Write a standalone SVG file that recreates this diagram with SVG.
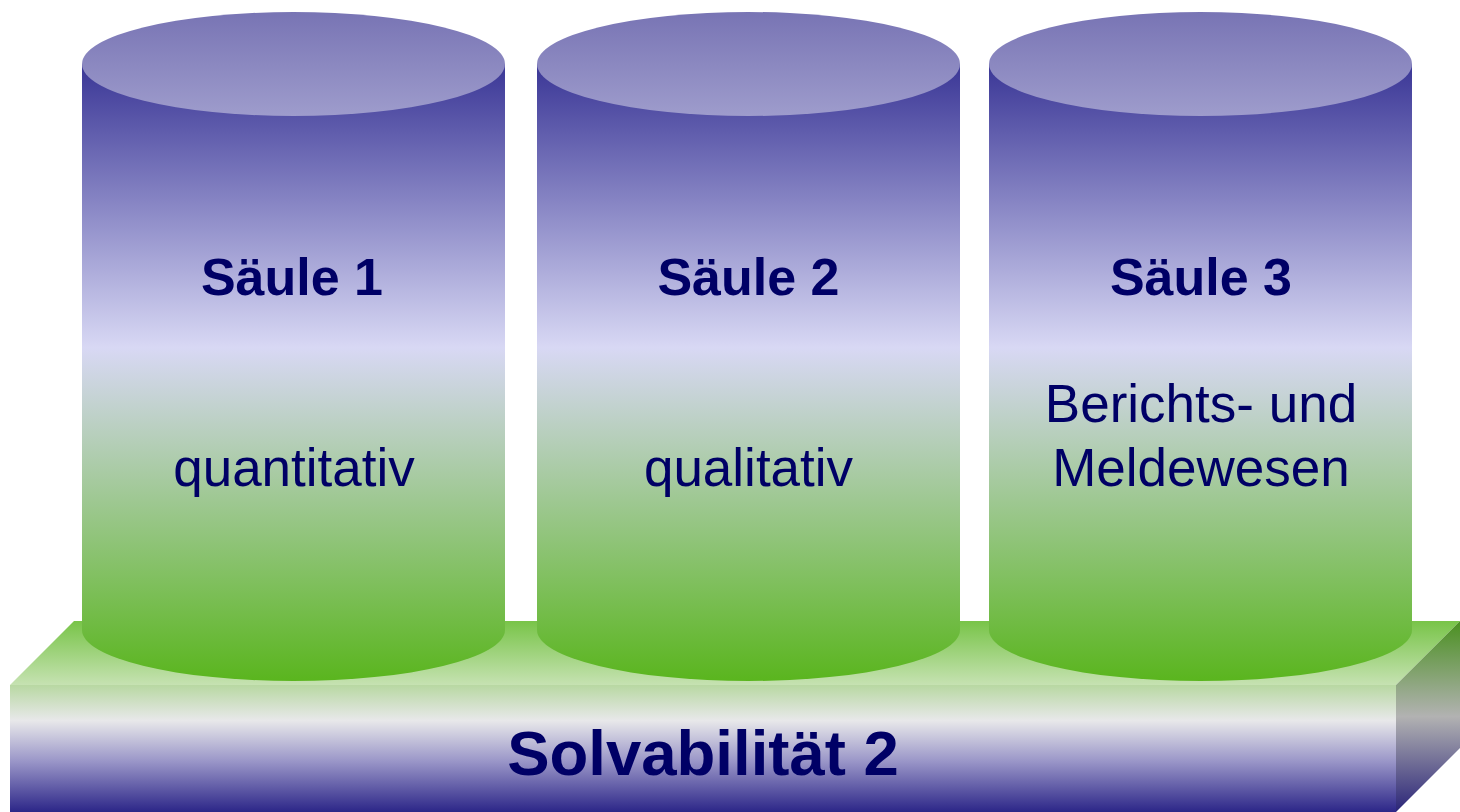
<svg xmlns="http://www.w3.org/2000/svg" width="1460" height="812" viewBox="0 0 1460 812">
<defs>
<linearGradient id="topFace" gradientUnits="userSpaceOnUse" x1="0" y1="621" x2="0" y2="685">
<stop offset="0" stop-color="#78c448"/><stop offset="1" stop-color="#c6e2b2"/>
</linearGradient>
<linearGradient id="frontFace" gradientUnits="userSpaceOnUse" x1="0" y1="685" x2="0" y2="812">
<stop offset="0" stop-color="#b8d8a2"/><stop offset="0.28" stop-color="#e8e8ea"/><stop offset="0.6" stop-color="#9a96c8"/><stop offset="1" stop-color="#2c2688"/>
</linearGradient>
<linearGradient id="sideFace" gradientUnits="userSpaceOnUse" x1="0" y1="621" x2="0" y2="812">
<stop offset="0" stop-color="#4a9020"/><stop offset="0.5" stop-color="#b2b2b2"/><stop offset="1" stop-color="#2a2478"/>
</linearGradient>
<linearGradient id="body" gradientUnits="userSpaceOnUse" x1="0" y1="64" x2="0" y2="681">
<stop offset="0" stop-color="#3a3696"/><stop offset="0.46" stop-color="#d8d8f4"/><stop offset="1" stop-color="#5ab51e"/>
</linearGradient>
<linearGradient id="cap" gradientUnits="userSpaceOnUse" x1="0" y1="12" x2="0" y2="116">
<stop offset="0" stop-color="#7874b4"/><stop offset="1" stop-color="#9e9ccc"/>
</linearGradient>
<style>
.t{font-family:"Liberation Sans",Arial,sans-serif;fill:#000066;text-anchor:middle;font-size:53px}
.b{font-weight:bold;font-size:52px}
.big{font-size:63.5px}
</style>
</defs>
<g id="base">
<polygon points="10,685 74,621 1460,621 1396,685" fill="url(#topFace)"/>
<rect x="10" y="685" width="1386" height="127" fill="url(#frontFace)"/>
<polygon points="1396,685 1460,621 1460,748 1396,812" fill="url(#sideFace)"/>
<text class="t b big" x="703" y="775">Solvabilität 2</text>
</g>
<g id="saeule1">
<path d="M82,64 L82,630 A211.5,51 0 0 0 505,630 L505,64 Z" fill="url(#body)"/>
<ellipse cx="293.5" cy="64" rx="211.5" ry="52" fill="url(#cap)"/>
<text class="t b" x="292" y="295">Säule 1</text>
<text class="t" x="294" y="486">quantitativ</text>
</g>
<g id="saeule2">
<path d="M537,64 L537,630 A211.5,51 0 0 0 960,630 L960,64 Z" fill="url(#body)"/>
<ellipse cx="748.5" cy="64" rx="211.5" ry="52" fill="url(#cap)"/>
<text class="t b" x="748.5" y="295">Säule 2</text>
<text class="t" x="748.5" y="486">qualitativ</text>
</g>
<g id="saeule3">
<path d="M989,64 L989,630 A211.5,51 0 0 0 1412,630 L1412,64 Z" fill="url(#body)"/>
<ellipse cx="1200.5" cy="64" rx="211.5" ry="52" fill="url(#cap)"/>
<text class="t b" x="1201" y="295">Säule 3</text>
<text class="t" x="1201" y="422">Berichts- und</text>
<text class="t" x="1201" y="486">Meldewesen</text>
</g>
<g id="connectors"/>
</svg>
